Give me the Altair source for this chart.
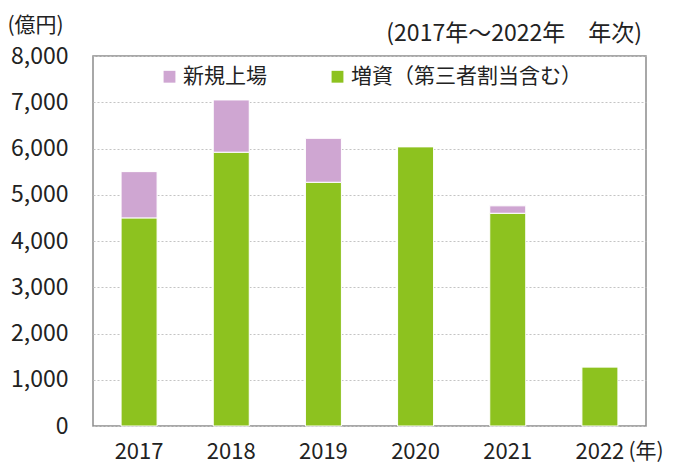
import altair as alt
import pandas as pd

years = ["2017", "2018", "2019", "2020", "2021", "2022"]
ipo = [1000, 1130, 950, 0, 160, 0]            # 新規上場
capital = [4500, 5920, 5270, 6040, 4600, 1280]  # 増資（第三者割当含む）
series = ["新規上場", "増資（第三者割当含む）"]
colors = ["#cfa6d2", "#8dc21f"]
y_ticks = [0, 1000, 2000, 3000, 4000, 5000, 6000, 7000, 8000]

rows = []
for i, yr in enumerate(years):
    rows.append({"year": yr, "series": series[1], "value": capital[i], "ord": 0})
    rows.append({"year": yr, "series": series[0], "value": ipo[i], "ord": 1})
df = pd.DataFrame(rows)

FONT = "Noto Sans CJK JP"

chart = alt.Chart(df).mark_bar(size=36, stroke="white", strokeWidth=1).encode(
    x=alt.X("year:N", sort=years,
            scale=alt.Scale(paddingInner=0.6, paddingOuter=0.3),
            axis=alt.Axis(title="(年)", labelAngle=0, ticks=False, domain=False,
                          labelFontSize=22, labelBaseline="middle", labelPadding=25,
                          titleFontSize=21, titleFontWeight="normal",
                          titleAnchor="start", titleAlign="left", titleBaseline="middle",
                          titleX=535, titleY=25, grid=False)),
    y=alt.Y("value:Q", stack="zero",
            scale=alt.Scale(domain=[0, 8000], nice=False),
            axis=alt.Axis(title="(億円)", values=y_ticks, format=",.0f", ticks=False,
                          domain=False, labelFontSize=23, labelPadding=25,
                          grid=True, gridColor="#c4c4c4", gridDash=[2, 2], gridWidth=1.2,
                          titleAngle=0, titleFontSize=21, titleFontWeight="normal",
                          titleAlign="left", titleBaseline="middle",
                          titleX=-86, titleY=-31)),
    color=alt.Color("series:N",
                    scale=alt.Scale(domain=series, range=colors),
                    legend=alt.Legend(title=None, orient="none", direction="horizontal",
                                      legendX=66, legendY=10, symbolType="square",
                                      symbolSize=140, symbolStrokeWidth=0,
                                      labelFontSize=21, columnPadding=60,
                                      labelOffset=3, labelLimit=0)),
    order=alt.Order("ord:Q"),
).properties(
    width=553,
    height=370,
    title=alt.TitleParams("(2017年～2022年　年次)", anchor="end", frame="group",
                          fontSize=23, fontWeight="normal", offset=-32, dx=-4,
                          color="#222"),
    autosize=alt.AutoSizeParams(type="none"),
    padding={"left": 85, "top": 48, "right": 20, "bottom": 39},
).configure(
    font=FONT,
).configure_view(
    stroke="#8c8c8c", strokeWidth=1.5,
).configure_axis(
    labelColor="#222", titleColor="#222", labelFont=FONT, titleFont=FONT,
).configure_legend(
    labelColor="#222", labelFont=FONT,
)

chart.save("out.html", embed_options={"renderer": "svg", "actions": False})
